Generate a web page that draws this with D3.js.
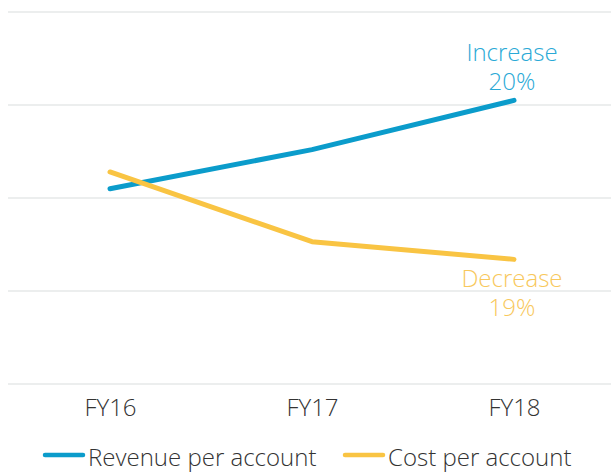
<!DOCTYPE html>
<html><head><meta charset="utf-8">
<script src="https://cdn.jsdelivr.net/npm/d3@7"></script>
<style>body{margin:0;background:#fff}text{font-family:"Open Sans",sans-serif;font-weight:300}</style>
</head><body><svg id="c" width="611" height="472"></svg>
<script>
const categories = ["FY16","FY17","FY18"];
const revenue = [2.10, 2.52, 3.05];
const cost = [2.28, 1.53, 1.34];
const gridTicks = [0,1,2,3,4];
const seriesNames = ["Revenue per account","Cost per account"];
const annotations = [["Increase","20%"],["Decrease","19%"]];
const colors = ["#0b9ccb","#f9c443"];
const textColors = ["#2aa9d6","#f8c85c"];

const svg = d3.select("#c");
const x = d3.scalePoint().domain(categories).range([110,514]);
const y = d3.scaleLinear().domain([0,4]).range([384,12]);

svg.append("g").selectAll("line").data(gridTicks).join("line")
  .attr("x1",8).attr("x2",611).attr("y1",d=>y(d)).attr("y2",d=>y(d))
  .attr("stroke","#dadddd").attr("stroke-width",1.2);

const xAxis = svg.append("g").attr("transform","translate(0,384)")
  .call(d3.axisBottom(x).tickSize(0).tickPadding(15));
xAxis.select(".domain").remove();
xAxis.selectAll("text").attr("font-size",24).attr("fill","#333")
  .style("font-family","'Open Sans',sans-serif").style("font-weight",300);

const line = d3.line().x((d,i)=>x(categories[i])).y(d=>y(d));
[revenue,cost].forEach((s,k)=>{
  svg.append("path").datum(s).attr("d",line).attr("fill","none")
    .attr("stroke",colors[k]).attr("stroke-width",5).attr("stroke-linecap","round").attr("stroke-linejoin","round");
});

// annotations (two-line labels as one text element)
const annTop = [y(revenue[2])-48, y(cost[2])+19];
annotations.forEach((a,k)=>{
  const t = svg.append("text").attr("y",annTop[k]).attr("text-anchor","middle")
    .attr("font-size",24).attr("fill",textColors[k]);
  a.forEach((s,j)=>{
    t.append("tspan").attr("x",x("FY18")-2).attr("y",annTop[k]+j*29).attr("dy","0.35em").text(s);
  });
});

// legend
const lx = [43, 343];
seriesNames.forEach((n,k)=>{
  svg.append("line").attr("x1",lx[k]+2).attr("x2",lx[k]+40).attr("y1",455).attr("y2",455)
    .attr("stroke",colors[k]).attr("stroke-width",4.5).attr("stroke-linecap","round");
  svg.append("text").attr("x",lx[k]+45).attr("y",458).attr("dy","0.32em").attr("font-size",24)
    .attr("fill","#333").text(n);
});
</script></body></html>
